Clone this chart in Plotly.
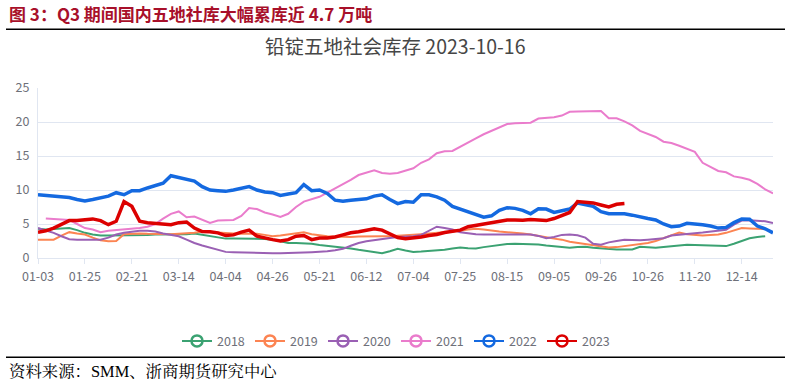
import plotly.graph_objects as go

categories = [
    "01-03", "01-06", "01-09", "01-12", "01-16", "01-19",
    "01-25", "01-28", "02-02", "02-06", "02-10", "02-16",
    "02-21", "02-24", "02-28", "03-03", "03-07", "03-10",
    "03-14", "03-17", "03-21", "03-24", "03-28", "03-31",
    "04-04", "04-07", "04-11", "04-14", "04-18", "04-21",
    "04-26", "04-29", "05-05", "05-09", "05-12", "05-16",
    "05-21", "05-24", "05-27", "05-31", "06-03", "06-07",
    "06-12", "06-15", "06-19", "06-22", "06-26", "06-29",
    "07-04", "07-07", "07-11", "07-14", "07-18", "07-21",
    "07-25", "07-28", "08-01", "08-04", "08-08", "08-11",
    "08-15", "08-18", "08-22", "08-25", "08-29", "09-01",
    "09-05", "09-08", "09-12", "09-15", "09-19", "09-22",
    "09-26", "10-09", "10-12", "10-16", "10-19", "10-23",
    "10-26", "10-30", "11-03", "11-07", "11-10", "11-14",
    "11-20", "11-24", "11-28", "12-01", "12-05", "12-08",
    "12-14", "12-18", "12-21", "12-25", "12-28",
]

tick_labels = ["01-03", "01-25", "02-21", "03-14", "04-04", "04-26", "05-21", "06-12",
               "07-04", "07-25", "08-15", "09-05", "09-26", "10-26", "11-20", "12-14"]

y2018 = [4.3, 4.2, 4.25, 4.35, 4.4, 4.1, 3.7, 3.45, 3.3, 3.3, 3.3, 3.3, 3.3, 3.35, 3.4, 3.45,
         3.45, 3.45, 3.45, 3.5, 3.6, 3.4, 3.2, 3.0, 2.85, 2.85, 2.85, 2.85, 2.85, 2.8, 2.7, 2.45,
         2.2, 2.2, 2.2, 2.1, 1.9, 1.8, 1.7, 1.6, 1.4, 1.2, 1.0, 0.85, 0.7, 1.0, 1.35, 1.1,
         0.9, 0.95, 1.0, 1.1, 1.2, 1.4, 1.55, 1.45, 1.4, 1.6, 1.75, 1.95, 2.05, 2.1, 2.1, 2.1,
         2.0, 1.85, 1.7, 1.6, 1.5, 1.6, 1.65, 1.5, 1.4, 1.3, 1.25, 1.25, 1.25, 1.65, 1.6, 1.5,
         1.6, 1.75, 1.9, 1.95, 1.9, 1.85, 1.8, 1.75, 1.75, 2.1, 2.45, 2.9, 3.1, 3.2, None]

y2019 = [2.7, 2.7, 2.7, 3.3, 3.8, 3.6, 3.45, 3.0, 2.6, 2.45, 2.5, 3.5, 3.6, 3.6, 3.55, 3.5,
         3.45, 3.5, 3.55, 3.6, 3.7, 3.9, 3.8, 3.7, 3.65, 3.6, 3.55, 3.55, 3.55, 3.4, 3.2, 3.3,
         3.45, 3.6, 3.8, 3.5, 3.3, 3.2, 3.15, 3.1, 3.1, 3.15, 3.2, 3.2, 3.2, 3.2, 3.25, 3.35,
         3.45, 3.5, 3.6, 3.7, 3.8, 3.8, 4.0, 4.2, 4.3, 4.2, 4.0, 3.9, 3.8, 3.75, 3.6, 3.45,
         3.2, 3.05, 2.85, 2.7, 2.4, 2.25, 2.1, 1.9, 1.7, 1.55, 1.6, 1.75, 1.85, 1.95, 2.2, 2.5,
         2.9, 3.3, 3.75, 3.5, 3.35, 3.3, 3.4, 3.45, 3.7, 4.1, 4.4, 4.35, 4.3, 4.25, None]

y2020 = [4.4, 4.1, 3.7, 3.2, 2.75, 2.7, 2.7, 2.7, 2.7, 3.0, 3.45, 3.7, 3.85, 4.0, 4.0, 3.9,
         3.6, 3.4, 3.2, 2.7, 2.2, 1.85, 1.5, 1.25, 0.9, 0.85, 0.8, 0.75, 0.75, 0.7, 0.7, 0.7,
         0.7, 0.75, 0.8, 0.85, 0.9, 1.0, 1.15, 1.35, 1.8, 2.2, 2.45, 2.65, 2.8, 2.95, 3.1, 3.15,
         3.2, 3.4, 4.0, 4.6, 4.4, 4.2, 3.8, 3.6, 3.5, 3.45, 3.45, 3.45, 3.5, 3.55, 3.5, 3.45,
         3.25, 2.9, 3.1, 3.4, 3.45, 3.35, 3.0, 2.1, 1.95, 2.3, 2.5, 2.7, 2.65, 2.6, 2.7, 2.8,
         2.9, 3.3, 3.45, 3.55, 3.65, 3.75, 3.9, 4.0, 4.15, 4.9, 5.5, 5.55, 5.5, 5.4, 5.15]

y2021 = [None, 5.8, 5.7, 5.65, 5.6, 5.0, 4.4, 4.2, 3.8, 4.0, 4.1, 4.15, 4.2, 4.4, 4.6, 5.0,
         5.8, 6.5, 6.85, 6.0, 6.1, 5.6, 5.15, 5.5, 5.5, 5.6, 6.2, 7.35, 7.2, 6.7, 6.4, 6.05,
         6.5, 7.5, 8.3, 8.6, 9.0, 9.6, 10.2, 10.8, 11.5, 12.2, 12.6, 12.9, 12.5, 12.4, 12.5, 12.8,
         13.2, 14.0, 14.5, 15.4, 15.7, 15.75, 16.4, 17.0, 17.6, 18.2, 18.7, 19.2, 19.7, 19.8, 19.8, 19.9,
         20.5, 20.6, 20.7, 20.95, 21.5, 21.55, 21.6, 21.6, 21.6, 20.55, 20.55, 20.1, 19.5, 18.7, 18.3, 17.8,
         17.1, 16.9, 16.5, 16.1, 15.6, 14.0, 13.4, 12.8, 12.6, 12.0, 11.8, 11.5, 10.9, 10.1, 9.5]

y2022 = [9.3, 9.2, 9.2, 9.1, 8.9, 8.6, 8.4, 8.6, 8.8, 9.1, 9.6, 9.3, 9.9, 9.9, 10.3, 10.6,
         11.0, 12.1, 11.8, 11.6, 11.3, 10.5, 10.0, 9.9, 9.8, 10.0, 10.2, 10.5, 10.0, 9.7, 9.6, 9.2,
         9.4, 9.6, 10.8, 9.9, 10.0, 9.5, 8.5, 8.35, 8.5, 8.6, 8.7, 9.1, 9.3, 8.6, 8.0, 8.3,
         8.2, 9.3, 9.3, 9.0, 8.5, 7.6, 7.2, 6.85, 6.5, 6.0, 6.2, 7.0, 7.4, 7.3, 7.0, 6.5,
         7.25, 7.2, 6.7, 6.9, 7.2, 8.1, 7.8, 7.6, 6.8, 6.5, 6.5, 6.5, 6.3, 6.0, 5.8, 5.6,
         5.0, 4.6, 4.7, 5.1, 5.05, 4.9, 4.7, 4.4, 4.5, 5.2, 5.75, 5.7, 4.7, 4.3, 3.7]

y2023 = [3.8, 4.0, 4.4, 4.9, 5.5, 5.5, 5.6, 5.75, 5.5, 4.9, 5.4, 8.3, 7.6, 5.4, 5.2, 5.1,
         5.0, 4.9, 5.2, 5.3, 4.4, 3.9, 3.85, 3.7, 3.3, 3.4, 3.8, 4.1, 3.2, 2.9, 2.7, 2.5,
         2.7, 3.2, 3.3, 2.7, 2.95, 2.95, 3.1, 3.4, 3.7, 3.85, 4.1, 4.3, 4.1, 3.5, 3.0, 2.85,
         2.95, 3.1, 3.3, 3.45, 3.75, 3.9, 4.1, 4.6, 4.8, 5.1, 5.3, 5.4, 5.6, 5.6, 5.55, 5.65,
         5.55, 5.5, 5.8, 6.2, 6.7, 8.3, 8.2, 8.1, 7.8, 7.5, 7.9, 8.0]

series_names = ["2018", "2019", "2020", "2021", "2022", "2023"]
series_values = [y2018, y2019, y2020, y2021, y2022, y2023]
series_colors = ["#3ba272", "#fc8452", "#9a60b4", "#ea7ccc", "#1469e0", "#dc0000"]
series_widths = [2, 2, 2, 2, 3.5, 3.5]

fig = go.Figure()
for name, vals, col, w in zip(series_names, series_values, series_colors, series_widths):
    fig.add_trace(go.Scatter(
        x=categories[:len(vals)], y=vals, mode="lines", name=name,
        line=dict(color=col, width=w), showlegend=False, connectgaps=False,
    ))
for name, col, w in zip(series_names, series_colors, series_widths):
    fig.add_trace(go.Scatter(
        x=[None], y=[None], mode="lines+markers", name=name,
        line=dict(color=col, width=2),
        marker=dict(symbol="circle-open", size=11, color=col, line=dict(width=2.5, color=col)),
        showlegend=True,
    ))

# plot area geometry in page px
L, R, T, B = 38, 773, 88, 258.5
H = B - T
W = R - L

def py(ypx):
    return (B - ypx) / H

def px(xpx):
    return (xpx - L) / W

tickfont = dict(family="Microsoft YaHei, Noto Sans CJK SC, Noto Sans, sans-serif", size=12.5, color="#6e7079")

fig.update_layout(
    width=787, height=386,
    margin=dict(l=L, r=787 - R, t=T, b=386 - B, autoexpand=False),
    paper_bgcolor="white", plot_bgcolor="white",
    xaxis=dict(
        type="category", categoryorder="array", categoryarray=categories,
        range=[0, len(categories) - 1],
        tickmode="array", tickvals=tick_labels, ticktext=tick_labels,
        showgrid=False, showline=True, linecolor="#e0e6f1", linewidth=1,
        ticks="outside", ticklen=5, tickcolor="#e0e6f1", ticklabelstandoff=2,
        tickfont=tickfont, zeroline=False,
    ),
    yaxis=dict(
        range=[0, 25], tickvals=[0, 5, 10, 15, 20, 25],
        showgrid=True, gridcolor="#e0e6f1", gridwidth=1,
        showline=True, linecolor="#e0e6f1", zeroline=False,
        tickfont=dict(family="Microsoft YaHei, Noto Sans CJK SC, Noto Sans, sans-serif", size=12.5, color="#6e7079"),
        ticks="", ticklabelstandoff=5,
    ),
    legend=dict(
        orientation="h", x=px(396), xanchor="center", y=py(342), yanchor="middle",
        font=dict(family="Microsoft YaHei, Noto Sans CJK SC, Noto Sans, sans-serif", size=12.5, color="#6e7079"),
        entrywidth=28, entrywidthmode="pixels", bgcolor="rgba(0,0,0,0)",
    ),
    showlegend=True,
)

fig.add_annotation(
    text="<b>图 3：Q3 期间国内五地社库大幅累库近 4.7 万吨</b>",
    xref="paper", yref="paper", x=px(7), y=py(13), xanchor="left", yanchor="middle",
    showarrow=False, font=dict(family="Noto Sans CJK SC, sans-serif", size=17, color="#a8102a"),
)
fig.add_annotation(
    text="铅锭五地社会库存 2023-10-16",
    xref="paper", yref="paper", x=px(395), y=py(45), xanchor="center", yanchor="middle",
    showarrow=False, font=dict(family="Microsoft YaHei, Noto Sans CJK SC, sans-serif", size=19.5, color="#464646"),
)
fig.add_annotation(
    text="资料来源：SMM、浙商期货研究中心",
    xref="paper", yref="paper", x=px(7), y=py(372), xanchor="left", yanchor="middle",
    showarrow=False, font=dict(family="Liberation Serif, Noto Serif CJK SC, Noto Sans CJK SC, serif", size=16.4, color="#000000"),
)
fig.add_shape(type="line", xref="paper", yref="paper", x0=px(6), x1=px(785), y0=py(29), y1=py(29),
              line=dict(color="#000000", width=1.5))
fig.add_shape(type="line", xref="paper", yref="paper", x0=px(6), x1=px(785), y0=py(358), y1=py(358),
              line=dict(color="#000000", width=1.5))

fig.write_html("out.html", config={"displayModeBar": False},
               post_script="document.body.style.margin='0';document.body.style.overflow='hidden';")
